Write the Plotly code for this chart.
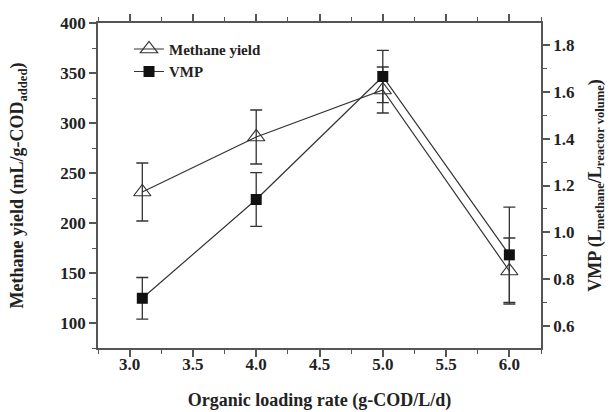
import plotly.graph_objects as go

olr = [3.1, 4.0, 5.0, 6.0]
methane_yield = [231, 286, 333, 152]
methane_err = [29, 27, 23, 33]
vmp = [0.717, 1.14, 1.667, 0.903]
vmp_err = [0.089, 0.115, 0.112, 0.204]

x_ticks = [3.0, 3.5, 4.0, 4.5, 5.0, 5.5, 6.0]
y_ticks = [100, 150, 200, 250, 300, 350, 400]
y2_ticks = [0.6, 0.8, 1.0, 1.2, 1.4, 1.6, 1.8]

FONT = "Liberation Serif"
AX = "#555555"
LINE = "#333333"

fig = go.Figure()
fig.add_trace(go.Scatter(
    x=olr, y=methane_yield, name="Methane yield", mode="lines+markers",
    line=dict(color=LINE, width=1.2),
    marker=dict(symbol="triangle-up-open", size=15, color=LINE, line=dict(width=1.2, color=LINE)),
    error_y=dict(type="data", array=methane_err, color=LINE, thickness=1.3, width=6),
    yaxis="y"))
fig.add_trace(go.Scatter(
    x=olr, y=vmp, name="VMP", mode="lines+markers",
    line=dict(color=LINE, width=1.2),
    marker=dict(symbol="square", size=11, color="#111111"),
    error_y=dict(type="data", array=vmp_err, color=LINE, thickness=1.3, width=6),
    yaxis="y2"))

tickfont = dict(family=FONT, size=17, color="#222222", weight="bold")
titlefont = dict(family=FONT, size=18, color="#222222", weight="bold")

fig.update_layout(
    width=614, height=412,
    margin=dict(l=98, r=73, t=23, b=64),
    paper_bgcolor="white", plot_bgcolor="white",
    showlegend=True,
    legend=dict(x=0.07, y=0.97, xanchor="left", yanchor="top",
                font=dict(family=FONT, size=15, color="#222222", weight="bold"),
                bgcolor="rgba(0,0,0,0)", itemwidth=30, tracegroupgap=0),
    xaxis=dict(
        range=[2.75, 6.25], tickvals=x_ticks, ticktext=[f"{v:.1f}" for v in x_ticks],
        ticks="outside", ticklen=7, tickwidth=1.5, tickcolor=AX,
        showline=True, linecolor=AX, linewidth=1.5, mirror="ticks",
        showgrid=False, zeroline=False, tickfont=tickfont, automargin=False,
        ticklabelstandoff=-7,
        minor=dict(dtick=0.25, tick0=2.75, ticks="outside", ticklen=4, tickcolor=AX, tickwidth=1.2),
        title=dict(text="Organic loading rate (g-COD/L/d)", font=titlefont, standoff=20)),
    yaxis=dict(
        range=[75, 400], tickvals=y_ticks,
        ticks="outside", ticklen=7, tickwidth=1.5, tickcolor=AX,
        showline=True, linecolor=AX, linewidth=1.5,
        showgrid=False, zeroline=False, tickfont=tickfont, automargin=False,
        minor=dict(dtick=25, tick0=0, ticks="outside", ticklen=4, tickcolor=AX, tickwidth=1.2),
        title=dict(text="Methane yield (mL/g-COD<sub>added</sub>)", font=titlefont, standoff=32)),
    yaxis2=dict(
        range=[0.504, 1.896], tickvals=y2_ticks, ticktext=[f"{v:.1f}" for v in y2_ticks],
        overlaying="y", side="right",
        ticks="outside", ticklen=7, tickwidth=1.5, tickcolor=AX,
        showline=True, linecolor=AX, linewidth=1.5,
        showgrid=False, zeroline=False, tickfont=tickfont, automargin=False,
        minor=dict(dtick=0.1, tick0=0, ticks="outside", ticklen=4, tickcolor=AX, tickwidth=1.2),
        title=dict(text="VMP (L<sub>methane</sub>/L<sub>reactor volume</sub>)", font=titlefont, standoff=14)),
)

fig.write_html("out.html")
